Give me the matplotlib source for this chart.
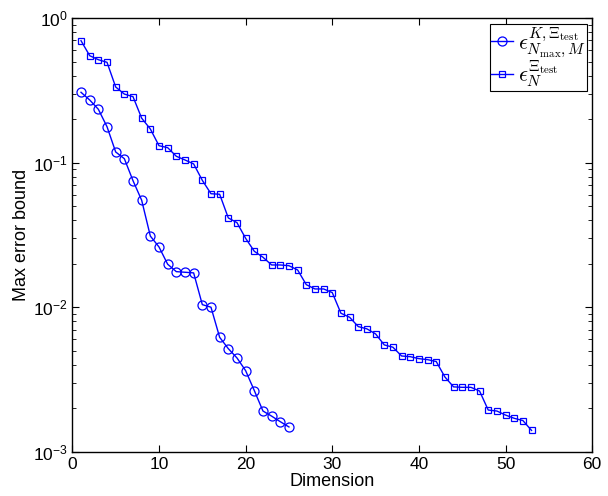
import matplotlib
matplotlib.use("Agg")
import matplotlib.pyplot as plt
from matplotlib.font_manager import FontProperties
from matplotlib.ticker import LogLocator, FixedLocator

plt.rcParams['font.family'] = ['Liberation Sans', 'DejaVu Sans']
plt.rcParams['mathtext.fontset'] = 'custom'
plt.rcParams['mathtext.rm'] = 'Liberation Sans'
plt.rcParams['mathtext.it'] = 'Liberation Sans:italic'
plt.rcParams['mathtext.bf'] = 'Liberation Sans:bold'

dim_circ = list(range(1, 26))
err_circ = [0.3065, 0.2712, 0.234, 0.1773, 0.1186, 0.1066, 0.0751, 0.0550, 0.0311,
            0.02615, 0.01986, 0.01765, 0.01748, 0.0173, 0.01044, 0.01002, 0.00621,
            0.00518, 0.00447, 0.00365, 0.00266, 0.00192, 0.00177, 0.00162, 0.00149]

dim_sq = list(range(1, 54))
err_sq = [0.697, 0.549, 0.515, 0.494, 0.3336, 0.298, 0.286, 0.203, 0.171, 0.131,
          0.127, 0.1107, 0.1044, 0.098, 0.0755, 0.0610, 0.0605, 0.0415, 0.0385,
          0.0300, 0.0244, 0.0222, 0.01963, 0.01963, 0.0194, 0.01813, 0.01435,
          0.0134, 0.0134, 0.01264, 0.0091, 0.00854, 0.00736, 0.0071, 0.00655,
          0.0055, 0.0053, 0.00461, 0.00456, 0.00442, 0.00435, 0.00422, 0.0033,
          0.00282, 0.0028, 0.0028, 0.00264, 0.00195, 0.00192, 0.00180, 0.00171,
          0.00165, 0.00141]

label_circ = r'$\epsilon^{K,\Xi_{\mathrm{test}}}_{N_{\max},M}$'
label_sq = r'$\epsilon^{\Xi_{\mathrm{test}}}_{N}$'

x_ticks = [0, 10, 20, 30, 40, 50, 60]

fig = plt.figure(figsize=(6.08, 4.96), dpi=100)
ax = fig.add_axes([0.119, 0.0887, 0.855, 0.875])

blue = (0, 0, 1)
ax.semilogy(dim_circ, err_circ, '-o', color=blue, lw=1.0, mfc='none', mec=blue,
            ms=6.5, mew=0.9, label=label_circ)
ax.semilogy(dim_sq, err_sq, '-s', color=blue, lw=1.0, mfc='none', mec=blue,
            ms=5, mew=0.9, label=label_sq)

ax.set_xlim(0, 60)
ax.set_ylim(1e-3, 1e0)
ax.xaxis.set_major_locator(FixedLocator(x_ticks))
ax.yaxis.set_major_locator(LogLocator(base=10, numticks=10))
ax.yaxis.set_minor_locator(LogLocator(base=10, subs=range(2, 10), numticks=20))

ax.tick_params(which='both', direction='in', top=True, right=True, labelsize=12.5)
ax.tick_params(which='major', length=5, width=0.8)
ax.tick_params(which='minor', length=3, width=0.6)
for s in ax.spines.values():
    s.set_linewidth(1.0)

ax.set_xlabel('Dimension', fontsize=13, labelpad=1)
ax.set_ylabel('Max error bound', fontsize=13, labelpad=2)

leg_prop = FontProperties(family='Liberation Sans', size=16, math_fontfamily='cm')
leg = ax.legend(loc='upper right', prop=leg_prop, fancybox=False, framealpha=1,
                edgecolor='black', handlelength=1.0, handletextpad=0.2,
                borderpad=0.05, labelspacing=-0.05, borderaxespad=0.25)
leg.get_frame().set_linewidth(0.8)

fig.savefig('out.png', dpi=100)
